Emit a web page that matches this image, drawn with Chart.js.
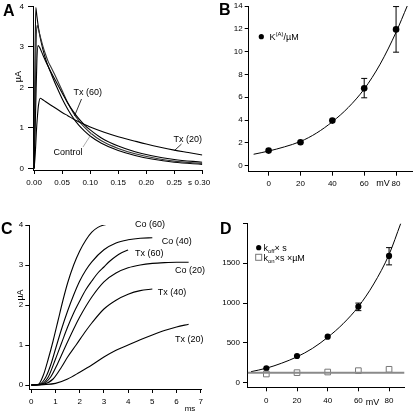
<!DOCTYPE html>
<html>
<head>
<meta charset="utf-8">
<script src="https://cdn.jsdelivr.net/npm/chart.js@4.4.0/dist/chart.umd.min.js"></script>
<style>
  html, body { margin: 0; padding: 0; background: #fff; }
  #wrap { position: relative; width: 416px; height: 411px; overflow: hidden; }
  #wrap canvas { position: absolute; left: 0; top: 0; }
</style>
</head>
<body>
<div id="wrap">
  <canvas id="chartA" width="416" height="411"></canvas>
  <canvas id="chartB" width="416" height="411"></canvas>
  <canvas id="chartC" width="416" height="411"></canvas>
  <canvas id="chartD" width="416" height="411"></canvas>
</div>
<script>
/* ============================================================
   Data
   ============================================================ */

/* Panel A: current traces, time in s, current in uA */
const aTimeTx60 = [0, 0.0015, 0.003, 0.005, 0.008, 0.012, 0.016, 0.02, 0.025, 0.03, 0.04, 0.05, 0.06, 0.07, 0.08, 0.09, 0.10, 0.12, 0.15, 0.18, 0.21, 0.25, 0.30];
const aCurTx60  = [0, 2.6, 3.97, 3.75, 3.45, 3.15, 2.92, 2.72, 2.52, 2.35, 2.02, 1.72, 1.46, 1.24, 1.06, 0.92, 0.80, 0.62, 0.44, 0.32, 0.23, 0.15, 0.10];
const aTimeCtrl = [0, 0.002, 0.004, 0.0055, 0.008, 0.012, 0.016, 0.02, 0.025, 0.03, 0.04, 0.05, 0.06, 0.07, 0.08, 0.09, 0.10, 0.12, 0.15, 0.18, 0.21, 0.25, 0.30];
const aCurCtrl  = [0, 1.8, 3.3, 3.53, 3.42, 3.2, 3.0, 2.83, 2.64, 2.5, 2.22, 1.92, 1.62, 1.37, 1.17, 1.01, 0.88, 0.68, 0.49, 0.36, 0.27, 0.18, 0.12];
const aTimeMid  = [0, 0.003, 0.005, 0.007, 0.01, 0.015, 0.02, 0.025, 0.03, 0.04, 0.05, 0.06, 0.07, 0.08, 0.09, 0.10, 0.12, 0.15, 0.18, 0.21, 0.25, 0.30];
const aCurMid   = [0, 1.6, 2.7, 3.03, 2.98, 2.82, 2.66, 2.52, 2.38, 2.12, 1.86, 1.61, 1.40, 1.22, 1.07, 0.95, 0.75, 0.55, 0.41, 0.31, 0.22, 0.15];
const aTimeTx20 = [0, 0.002, 0.004, 0.006, 0.008, 0.011, 0.015, 0.02, 0.03, 0.04, 0.05, 0.06, 0.075, 0.09, 0.10, 0.125, 0.15, 0.175, 0.2, 0.225, 0.25, 0.275, 0.30];
const aCurTx20  = [0, 0.35, 0.9, 1.3, 1.58, 1.73, 1.70, 1.65, 1.56, 1.47, 1.38, 1.30, 1.18, 1.08, 1.02, 0.89, 0.78, 0.69, 0.60, 0.52, 0.45, 0.39, 0.33];
const aXTicks = [0, 0.05, 0.10, 0.15, 0.20, 0.25, 0.30];
const aXLabels = ['0.00', '0.05', '0.10', '0.15', '0.20', '0.25', '0.30'];
const aYTicks = [0, 1, 2, 3, 4];

/* Panel B: K(A) vs voltage */
const bMv = [0, 20, 40, 60, 80];
const bK = [1.32, 2.05, 3.95, 6.78, 11.95];
const bErrLow = [null, null, null, 5.95, 9.95];
const bErrHigh = [null, null, null, 7.65, 13.95];
const bFitMv = [-9.4, 0, 10, 20, 30, 40, 50, 60, 70, 80, 87];
const bFitK = [1.0, 1.28, 1.65, 2.12, 2.85, 3.85, 5.1, 6.72, 8.9, 11.7, 14.0];
const bXTicks = [0, 20, 40, 60, 80];
const bYTicks = [0, 2, 4, 6, 8, 10, 12, 14];

/* Panel C: activation traces, time in ms, current in uA */
const cCo60T = [0, 0.3, 0.5, 0.7, 0.9, 1.1, 1.3, 1.5, 1.75, 2.0, 2.25, 2.5, 2.75, 3.0, 3.5, 4.0];
const cCo60  = [0, 0.02, 0.25, 0.65, 1.1, 1.6, 2.1, 2.55, 3.0, 3.35, 3.62, 3.82, 3.94, 4.0, 4.04, 4.05];
const cCo40T = [0, 0.35, 0.6, 0.8, 1.0, 1.25, 1.5, 1.75, 2.0, 2.25, 2.5, 3.0, 3.5, 4.0, 4.5, 5.0];
const cCo40  = [0, 0.02, 0.2, 0.5, 0.9, 1.4, 1.85, 2.25, 2.6, 2.87, 3.08, 3.38, 3.55, 3.63, 3.67, 3.68];
const cTx60T = [0, 0.4, 0.7, 1.0, 1.25, 1.5, 1.75, 2.0, 2.25, 2.5, 2.75, 3.0, 3.25, 3.5, 3.75, 4.0];
const cTx60  = [0, 0.02, 0.2, 0.65, 1.05, 1.45, 1.8, 2.1, 2.38, 2.6, 2.8, 2.95, 3.1, 3.22, 3.31, 3.375];
const cCo20T = [0, 0.45, 0.8, 1.1, 1.4, 1.75, 2.0, 2.5, 3.0, 3.5, 4.0, 4.5, 5.0, 5.5, 6.0, 6.5];
const cCo20  = [0, 0.02, 0.2, 0.55, 0.95, 1.4, 1.7, 2.2, 2.58, 2.8, 2.93, 3.0, 3.04, 3.06, 3.07, 3.07];
const cTx40T = [0, 0.5, 0.9, 1.25, 1.5, 1.85, 2.25, 2.5, 3.0, 3.5, 4.0, 4.5, 5.0];
const cTx40  = [0, 0.02, 0.15, 0.45, 0.7, 1.0, 1.35, 1.55, 1.9, 2.12, 2.27, 2.36, 2.4];
const cTx20T = [0, 0.5, 1.0, 1.5, 2.0, 2.5, 3.0, 3.5, 4.0, 4.5, 5.0, 5.5, 6.0, 6.5];
const cTx20  = [0, 0.01, 0.04, 0.15, 0.32, 0.5, 0.7, 0.87, 1.0, 1.13, 1.25, 1.36, 1.45, 1.52];
const cXTicks = [0, 1, 2, 3, 4, 5, 6, 7];
const cYTicks = [0, 1, 2, 3, 4];

/* Panel D: koff and kon vs voltage */
const dMv = [0, 20, 40, 60, 80];
const dKoff = [180, 335, 578, 955, 1592];
const dKoffErrLow = [null, null, null, 905, 1480];
const dKoffErrHigh = [null, null, null, 1000, 1697];
const dKon = [109, 126, 134, 151, 168];
const dFitMv = [-10, 0, 10, 20, 30, 40, 50, 60, 70, 80, 87.6];
const dFitKoff = [138, 182, 245, 325, 430, 570, 740, 955, 1240, 1610, 2000];
const dKonFitMv = [-12, 90];
const dKonFit = [126, 126];
const dXTicks = [0, 20, 40, 60, 80];
const dYTicks = [0, 500, 1000, 1500, 2000];
const dYLabels = ['0', '500', '1000', '1500', ''];

/* ============================================================
   Helpers
   ============================================================ */
const W = 416, H = 411;
const FONT = '"Liberation Sans", Arial, Helvetica, sans-serif';
const tickFont = { family: FONT, size: 8 };

const pts = (xs, ys) => xs.map((x, i) => ({ x: x, y: ys[i] }));

const traceLine = (xs, ys, color, width) => ({
  data: pts(xs, ys),
  showLine: true,
  borderColor: color || '#000',
  borderWidth: width || 1.1,
  pointRadius: 0,
  cubicInterpolationMode: 'monotone',
  fill: false
});

function panelOptions(p) {
  const axis = (min, max, ticks, labels, pad, isX) => ({
    type: 'linear',
    position: isX ? 'bottom' : 'left',
    min: min,
    max: max,
    afterBuildTicks: s => { s.ticks = ticks.map(v => ({ value: v })); },
    afterFit: s => {
      if (isX) s.height = H - p.box.bottom; else s.width = p.box.left;
      s.paddingLeft = s.paddingRight = s.paddingTop = s.paddingBottom = 0;
    },
    ticks: {
      autoSkip: false, maxRotation: 0, color: '#000', font: tickFont, padding: pad,
      callback: (v, i) => labels ? labels[i] : String(ticks[i])
    },
    grid: { drawOnChartArea: false, drawTicks: true, tickLength: isX ? 4 : (p.yTickLen || 4), tickColor: '#000', tickWidth: 1 },
    border: { display: true, color: '#000', width: 1 }
  });
  return {
    responsive: false,
    animation: false,
    devicePixelRatio: 1,
    layout: { padding: { left: 0, top: p.box.top, right: W - p.box.right, bottom: 0 } },
    plugins: { legend: { display: false }, tooltip: { enabled: false } },
    scales: {
      x: axis(p.xMin, p.xMax, p.xTicks, p.xLabels, p.xPad, true),
      y: axis(p.yMin, p.yMax, p.yTicks, p.yLabels, p.yPad, false)
    }
  };
}

function drawRuns(ctx, x, y, runs) {
  runs.forEach(([t, size, dy]) => {
    ctx.font = size + 'px ' + FONT;
    ctx.fillText(t, x, y + dy);
    x += ctx.measureText(t).width;
  });
}

function text(ctx, t, x, y, opts) {
  opts = opts || {};
  ctx.font = (opts.bold ? 'bold ' : '') + (opts.size || 9) + 'px ' + FONT;
  ctx.textAlign = opts.align || 'left';
  ctx.textBaseline = opts.baseline || 'middle';
  ctx.fillStyle = '#000';
  ctx.fillText(t, x, y);
}

function vText(ctx, t, x, y) {
  ctx.save();
  ctx.translate(x, y);
  ctx.rotate(-Math.PI / 2);
  text(ctx, t, 0, 0, { align: 'center' });
  ctx.restore();
}

function leader(ctx, x1, y1, x2, y2, color) {
  ctx.save();
  ctx.strokeStyle = color || '#000';
  ctx.lineWidth = 0.8;
  ctx.beginPath();
  ctx.moveTo(x1, y1);
  ctx.lineTo(x2, y2);
  ctx.stroke();
  ctx.restore();
}

function errorBars(xs, lows, highs) {
  return {
    id: 'errorBars',
    beforeDatasetsDraw(chart) {
      const ctx = chart.ctx, sx = chart.scales.x, sy = chart.scales.y;
      ctx.save();
      ctx.strokeStyle = '#000';
      ctx.lineWidth = 1;
      xs.forEach((x, i) => {
        if (lows[i] == null) return;
        const px = sx.getPixelForValue(x);
        const y1 = sy.getPixelForValue(lows[i]), y2 = sy.getPixelForValue(highs[i]);
        ctx.beginPath();
        ctx.moveTo(px, y1); ctx.lineTo(px, y2);
        ctx.moveTo(px - 3, y1); ctx.lineTo(px + 3, y1);
        ctx.moveTo(px - 3, y2); ctx.lineTo(px + 3, y2);
        ctx.stroke();
      });
      ctx.restore();
    }
  };
}

/* ============================================================
   Panel A
   ============================================================ */
new Chart(document.getElementById('chartA'), {
  type: 'scatter',
  data: {
    datasets: [
      traceLine(aTimeTx20, aCurTx20),
      traceLine(aTimeMid, aCurMid),
      traceLine(aTimeCtrl, aCurCtrl, '#333'),
      traceLine(aTimeTx60, aCurTx60)
    ]
  },
  options: panelOptions({
    box: { left: 33, top: 6.3, right: 202.3, bottom: 170 },
    xMin: -0.002, xMax: 0.30, yMin: -0.04, yMax: 4,
    xTicks: aXTicks, xLabels: aXLabels, yTicks: aYTicks,
    xPad: 4, yPad: 4, yTickLen: 5
  }),
  plugins: [{
    id: 'annotA',
    afterDraw(chart) {
      const ctx = chart.ctx;
      text(ctx, 'A', 3, 16, { bold: true, size: 16, baseline: 'alphabetic' });
      vText(ctx, 'µA', 18.3, 76.7);
      text(ctx, 's', 190, 183, { size: 8, align: 'center' });
      text(ctx, 'Tx (60)', 73.5, 93);
      leader(ctx, 81.5, 99, 74.5, 116);
      text(ctx, 'Control', 53.5, 152.5);
      leader(ctx, 83, 147, 92, 133, '#999');
      text(ctx, 'Tx (20)', 173.5, 139.5);
      leader(ctx, 181.5, 144, 174.5, 150.5);
    }
  }]
});

/* ============================================================
   Panel B
   ============================================================ */
new Chart(document.getElementById('chartB'), {
  type: 'scatter',
  data: {
    datasets: [
      traceLine(bFitMv, bFitK, '#000', 1),
      { data: pts(bMv, bK), pointRadius: 3.3, pointBackgroundColor: '#000', pointBorderColor: '#000', pointBorderWidth: 0 }
    ]
  },
  options: panelOptions({
    box: { left: 248.7, top: 6, right: 415.3, bottom: 171.7 },
    xMin: -12.5, xMax: 90, yMin: -0.53, yMax: 14,
    xTicks: bXTicks, yTicks: bYTicks,
    xPad: 3, yPad: 2
  }),
  plugins: [errorBars(bMv, bErrLow, bErrHigh), {
    id: 'annotB',
    afterDraw(chart) {
      const ctx = chart.ctx;
      text(ctx, 'B', 219, 15, { bold: true, size: 16, baseline: 'alphabetic' });
      text(ctx, 'mV', 383, 184, { align: 'center' });
      ctx.fillStyle = '#000';
      ctx.beginPath(); ctx.arc(261.3, 36.7, 2.6, 0, Math.PI * 2); ctx.fill();
      ctx.textAlign = 'left'; ctx.textBaseline = 'alphabetic';
      drawRuns(ctx, 269.5, 40, [['K', 9, 0], ['(A)', 6, -4], ['/µM', 9, 0]]);
    }
  }]
});

/* ============================================================
   Panel C
   ============================================================ */
new Chart(document.getElementById('chartC'), {
  type: 'scatter',
  data: {
    datasets: [
      traceLine(cCo60T, cCo60),
      traceLine(cCo40T, cCo40),
      traceLine(cTx60T, cTx60),
      traceLine(cCo20T, cCo20),
      traceLine(cTx40T, cTx40),
      traceLine(cTx20T, cTx20)
    ]
  },
  options: panelOptions({
    box: { left: 29.3, top: 225, right: 201.7, bottom: 389 },
    xMin: -0.083, xMax: 7.04, yMin: -0.1, yMax: 4,
    xTicks: cXTicks, yTicks: cYTicks,
    xPad: 4, yPad: 2
  }),
  plugins: [{
    id: 'annotC',
    afterDraw(chart) {
      const ctx = chart.ctx;
      text(ctx, 'C', 1, 233.5, { bold: true, size: 16, baseline: 'alphabetic' });
      vText(ctx, 'µA', 20.8, 295);
      text(ctx, 'ms', 190, 408.5, { size: 8, align: 'center' });
      text(ctx, 'Co (60)', 135, 224.5);
      text(ctx, 'Co (40)', 161.7, 241.7);
      text(ctx, 'Tx (60)', 135, 253.3);
      text(ctx, 'Co (20)', 175, 271);
      text(ctx, 'Tx (40)', 157.7, 292.7);
      text(ctx, 'Tx (20)', 175, 339.3);
    }
  }]
});

/* ============================================================
   Panel D
   ============================================================ */
new Chart(document.getElementById('chartD'), {
  type: 'scatter',
  data: {
    datasets: [
      traceLine(dKonFitMv, dKonFit, '#8a8a8a', 2),
      { data: pts(dMv, dKon), pointStyle: 'rect', pointRadius: 4, pointBackgroundColor: '#fff', pointBorderColor: '#777', pointBorderWidth: 1 },
      traceLine(dFitMv, dFitKoff, '#000', 1),
      { data: pts(dMv, dKoff), pointRadius: 3.1, pointBackgroundColor: '#000', pointBorderColor: '#000', pointBorderWidth: 0 }
    ]
  },
  options: panelOptions({
    box: { left: 247, top: 223.5, right: 404.7, bottom: 387.3 },
    xMin: -12.6, xMax: 90.2, yMin: -58, yMax: 2000,
    xTicks: dXTicks, yTicks: dYTicks, yLabels: dYLabels,
    xPad: 5, yPad: 3
  }),
  plugins: [errorBars(dMv, dKoffErrLow, dKoffErrHigh), {
    id: 'annotD',
    afterDraw(chart) {
      const ctx = chart.ctx;
      text(ctx, 'D', 220, 233.5, { bold: true, size: 16, baseline: 'alphabetic' });
      text(ctx, 'mV', 372.5, 402.7, { align: 'center' });
      ctx.fillStyle = '#000';
      ctx.beginPath(); ctx.arc(258.7, 247.7, 2.6, 0, Math.PI * 2); ctx.fill();
      ctx.fillStyle = '#fff'; ctx.strokeStyle = '#777'; ctx.lineWidth = 1;
      ctx.fillRect(255.7, 254.3, 6, 6); ctx.strokeRect(255.7, 254.3, 6, 6);
      ctx.fillStyle = '#000';
      ctx.textAlign = 'left'; ctx.textBaseline = 'alphabetic';
      drawRuns(ctx, 263.5, 251, [['k', 9, 0], ['off', 6, 2], ['× s', 9, 0]]);
      drawRuns(ctx, 263.5, 260.5, [['k', 9, 0], ['on', 6, 2], ['×s ×µM', 9, 0]]);
    }
  }]
});
</script>
</body>
</html>
